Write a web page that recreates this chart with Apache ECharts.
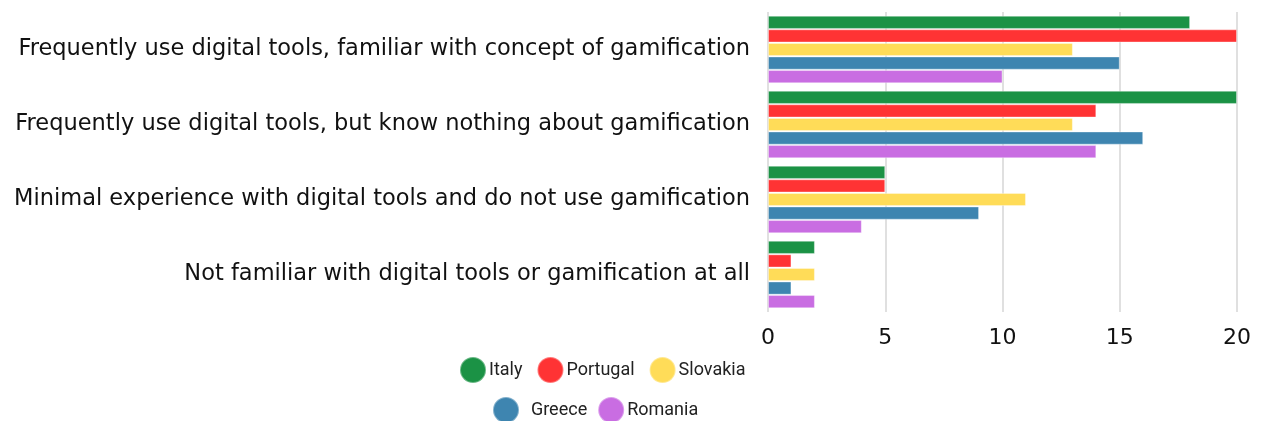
<!DOCTYPE html>
<html>
<head>
<meta charset="utf-8">
<script src="https://cdn.jsdelivr.net/npm/echarts@6/dist/echarts.min.js"></script>
<style>
  html, body { margin: 0; padding: 0; background: #fff; }
  #main { width: 1262px; height: 421px; }
</style>
</head>
<body>
<div id="main"></div>
<script>
  const categories = [
    'Frequently use digital tools, familiar with concept of gamification',
    'Frequently use digital tools, but know nothing about gamification',
    'Minimal experience with digital tools and do not use gamification',
    'Not familiar with digital tools or gamification at all'
  ]
  const countries = ['Italy', 'Portugal', 'Slovakia', 'Greece', 'Romania']
  const italy = [18, 20, 5, 2]
  const portugal = [20, 14, 5, 1]
  const slovakia = [13, 13, 11, 2]
  const greece = [15, 16, 9, 1]
  const romania = [10, 14, 4, 2]
  const colors = ['#1b9245', '#ff3334', '#ffdc58', '#3e85b0', '#c96de2']

  const values = [italy, portugal, slovakia, greece, romania]
  const myChart = echarts.init(document.getElementById('main'))

  const legendText = { fontFamily: 'Roboto', fontSize: 18, color: '#222', padding: [0, 0, 0, -2] }
  const option = {
    animation: false,
    color: colors,
    grid: { left: 768, right: 25, top: 12, bottom: 109 },
    legend: [{
      data: countries.slice(0, 3),
      left: 454,
      top: 351,
      icon: 'circle',
      itemWidth: 26,
      itemHeight: 26,
      itemGap: 14,
      textStyle: legendText
    }, {
      data: countries.slice(3),
      left: 487,
      top: 391,
      icon: 'circle',
      itemWidth: 26,
      itemHeight: 26,
      itemGap: 10,
      textStyle: legendText,
      formatter: function (name) { return name === 'Greece' ? '  ' + name : name }
    }],
    xAxis: {
      type: 'value',
      min: 0,
      max: 20,
      interval: 5,
      axisLine: { show: false },
      axisTick: { show: false },
      axisLabel: { fontFamily: 'DejaVu Sans', fontSize: 22, color: '#111', margin: 15 },
      splitLine: { lineStyle: { color: '#e0e0e0', width: 2 } }
    },
    yAxis: {
      type: 'category',
      data: categories,
      inverse: true,
      axisLine: { show: false },
      axisTick: { show: false },
      axisLabel: { fontFamily: 'DejaVu Sans', fontSize: 22.5, color: '#111', margin: 18, padding: [6, 0, 0, 0] }
    },
    series: countries.map(function (name, i) {
      return {
        name: name,
        type: 'bar',
        data: values[i],
        barGap: '3%',
        barCategoryGap: '10%',
        itemStyle: { borderColor: 'rgba(255,255,255,0.35)', borderWidth: 1 }
      }
    })
  }
  myChart.setOption(option)
</script>
</body>
</html>
